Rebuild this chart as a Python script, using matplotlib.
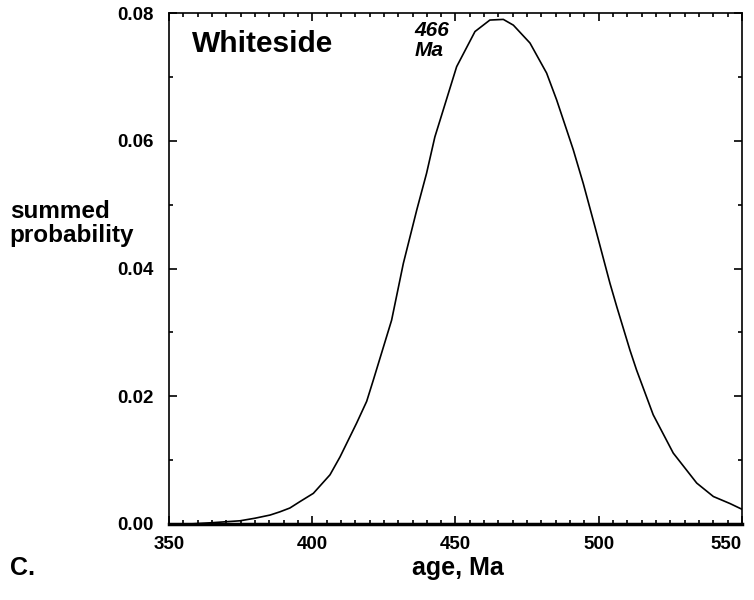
# Summed probability curve, Whiteside detrital ages
import numpy as np
import matplotlib.pyplot as plt
from matplotlib.ticker import MultipleLocator

plt.rcParams['font.family'] = ['Liberation Sans', 'DejaVu Sans']
plt.rcParams['font.weight'] = 'bold'

# values
age = [357.3, 365.0, 374.8, 380.0, 385.3, 388.7, 392.2, 395.7, 400.4, 406.2,
       409.7, 415.5, 419.0, 421.3, 427.7, 431.8, 436.5, 439.9, 442.8, 444.6,
       450.4, 456.8, 462.0, 466.7, 470.2, 476.0, 481.8, 485.3, 488.8, 491.1,
       494.6, 498.7, 503.9, 506.3, 510.9, 513.2, 519.0, 526.0, 534.2, 540.0,
       545.8, 550.0]
prob = [0.0, 0.0002, 0.0005, 0.0009, 0.0014, 0.0019, 0.0025, 0.0035, 0.0048, 0.0077,
        0.0105, 0.0158, 0.0192, 0.0225, 0.0319, 0.0408, 0.0492, 0.0549, 0.0606, 0.0632,
        0.0716, 0.0771, 0.0789, 0.0790, 0.0781, 0.0753, 0.0706, 0.0664, 0.0617, 0.0586,
        0.0533, 0.0465, 0.0377, 0.0340, 0.0272, 0.0241, 0.0171, 0.0111, 0.0064, 0.0043,
        0.0032, 0.0023]
xticks = [350, 400, 450, 500, 550]
peak_label = '466\nMa'
site = 'Whiteside'

fig = plt.figure(figsize=(7.54, 6.0), dpi=100)
ax = fig.add_axes([0.2241, 0.1267, 0.76, 0.8516])

ax.plot(age, prob, color='black', lw=1.2)

ax.set_xlim(350, 550)
ax.set_ylim(0, 0.08)
ax.set_xticks(xticks)
ax.xaxis.set_minor_locator(MultipleLocator(5))
ax.yaxis.set_major_locator(MultipleLocator(0.02))
ax.yaxis.set_minor_locator(MultipleLocator(0.01))
ax.yaxis.set_major_formatter(plt.FormatStrFormatter('%.2f'))

ax.tick_params(which='both', direction='in', top=True, right=True,
               labelsize=13.5, width=1.2)
ax.tick_params(which='major', length=6)
ax.tick_params(which='minor', length=3)
ax.tick_params(axis='x', pad=9)
ax.tick_params(axis='y', pad=11)

# keep the last x label inside the figure
ax.get_xticklabels()[-1].set_horizontalalignment('right')

for side in ['left', 'right', 'top']:
    ax.spines[side].set_linewidth(1.2)
ax.spines['bottom'].set_linewidth(2.5)

ax.text(0.04, 0.967, site, transform=ax.transAxes, fontsize=21.5,
        ha='left', va='top')
ax.text(0.428, 0.985, peak_label, transform=ax.transAxes, fontsize=15,
        style='italic', ha='left', va='top', linespacing=1.1)

fig.text(0.013, 0.628, 'summed\nprobability', fontsize=17.5, ha='left',
         va='center', linespacing=1.05)
fig.text(0.607, 0.053, 'age, Ma', fontsize=18, ha='center', va='center')
fig.text(0.013, 0.053, 'C.', fontsize=18, ha='left', va='center')

fig.savefig('out.png', dpi=100)
